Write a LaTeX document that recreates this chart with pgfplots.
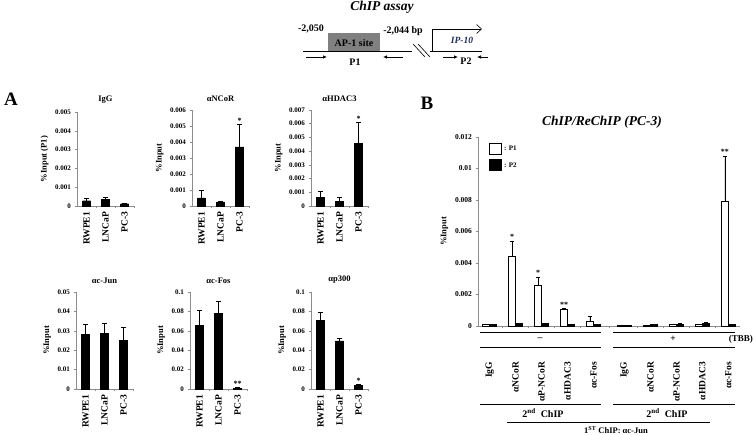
\documentclass[border=0pt]{standalone}
\usepackage{pgfplots}
\pgfplotsset{compat=1.18}
\usepackage{fontspec}
\setmainfont{Liberation Serif}
\usetikzlibrary{arrows.meta}
\newcommand{\fs}[1]{\fontsize{#1}{#1}\selectfont}
\definecolor{axgray}{RGB}{140,140,140}
\definecolor{ipblue}{RGB}{31,45,90}
\definecolor{boxgray}{RGB}{128,128,128}
\pgfplotsset{
 common/.style={
  scale only axis, ymin=0,
  axis x line*=bottom, axis y line*=left,
  axis line style={-, draw=axgray, line width=0.6pt},
  major x tick style={draw=none},
  minor x tick style={draw=axgray, line width=0.5pt},
  y tick style={draw=axgray, line width=0.5pt},
  tick align=outside, major tick length=2.5pt, minor tick length=2.5pt,
  y tick label style={font=\bfseries\fs{7}},
  ylabel={\%Input}, ylabel style={font=\bfseries\fs{8.5}},
  scaled y ticks=false, clip=false,
  error bars/y dir=plus, error bars/y explicit,
  error bars/error bar style={black, line width=0.6pt},
  error bars/error mark options={rotate=90, black, mark size=2.3pt, line width=0.6pt},
 },
 panelA/.style={
  common, width=57pt,
  ybar, bar width=8pt,
  xmin=-0.5, xmax=2.5,
  xtick={0,1,2}, xticklabels={RWPE1,LNCaP,PC-3},
  minor xtick={0.5,1.5,2.5},
  x tick label style={rotate=90, anchor=east, font=\bfseries\fs{9.5}},
  title style={font=\bfseries\fs{8.5}, yshift=-1pt},
 },
}
\begin{document}
\begin{tikzpicture}
\useasboundingbox (0,0) rectangle (754pt,435pt);

% ---------------- Panel A, row 1 ----------------
\begin{axis}[panelA, at={(77pt,229pt)}, anchor=south west, height=94pt,
  ymax=0.005, ytick={0,0.001,0.002,0.003,0.004,0.005},
  yticklabels={0,0.001,0.002,0.003,0.004,0.005},
  ylabel={\%Input (P1)}, title={IgG}]
\addplot[fill=black, draw=black] coordinates {
 (0,0.00028) +- (0,0.00012)
 (1,0.00037) +- (0,0.0001)
 (2,0.00012) +- (0,0.00002)};
\end{axis}

\begin{axis}[panelA, at={(192pt,229pt)}, anchor=south west, height=96pt,
  ymax=0.006, ytick={0,0.001,0.002,0.003,0.004,0.005,0.006},
  yticklabels={0,0.001,0.002,0.003,0.004,0.005,0.006},
  title={αNCoR}]
\addplot[fill=black, draw=black] coordinates {
 (0,0.0005) +- (0,0.0005)
 (1,0.00025) +- (0,0.00005)
 (2,0.0037) +- (0,0.0014)};
\node[font=\bfseries\fs{8}, anchor=south, inner sep=1pt] at (axis cs:2,0.0051) {*};
\end{axis}

\begin{axis}[panelA, at={(311pt,229pt)}, anchor=south west, height=96pt,
  ymax=0.007, ytick={0,0.001,0.002,0.003,0.004,0.005,0.006,0.007},
  yticklabels={0,0.001,0.002,0.003,0.004,0.005,0.006,0.007},
  title={αHDAC3}]
\addplot[fill=black, draw=black] coordinates {
 (0,0.00065) +- (0,0.0004)
 (1,0.00035) +- (0,0.00025)
 (2,0.00455) +- (0,0.00155)};
\node[font=\bfseries\fs{8}, anchor=south, inner sep=1pt] at (axis cs:2,0.0061) {*};
\end{axis}

% ---------------- Panel A, row 2 ----------------
\begin{axis}[panelA, at={(76pt,46pt)}, anchor=south west, height=97pt,
  ymax=0.05, ytick={0,0.01,0.02,0.03,0.04,0.05},
  yticklabels={0,0.01,0.02,0.03,0.04,0.05},
  title={αc-Jun}]
\addplot[fill=black, draw=black] coordinates {
 (0,0.0283) +- (0,0.0052)
 (1,0.0288) +- (0,0.0052)
 (2,0.0252) +- (0,0.0068)};
\end{axis}

\begin{axis}[panelA, at={(190pt,46pt)}, anchor=south west, height=97pt,
  ymax=0.1, ytick={0,0.02,0.04,0.06,0.08,0.1},
  yticklabels={0,0.02,0.04,0.06,0.08,0.1},
  title={αc-Fos}]
\addplot[fill=black, draw=black] coordinates {
 (0,0.0655) +- (0,0.0155)
 (1,0.078) +- (0,0.012)
 (2,0.001) +- (0,0.0005)};
\node[font=\bfseries\fs{8}, anchor=south, inner sep=1pt] at (axis cs:2,0.0015) {**};
\end{axis}

\begin{axis}[panelA, at={(311pt,46pt)}, anchor=south west, height=97pt,
  ymax=0.1, ytick={0,0.02,0.04,0.06,0.08,0.1},
  yticklabels={0,0.02,0.04,0.06,0.08,0.1},
  title={αp300}]
\addplot[fill=black, draw=black] coordinates {
 (0,0.071) +- (0,0.008)
 (1,0.0495) +- (0,0.0025)
 (2,0.0035) +- (0,0.0012)};
\node[font=\bfseries\fs{8}, anchor=south, inner sep=1pt] at (axis cs:2,0.0047) {*};
\end{axis}

% ---------------- Panel B ----------------
\begin{axis}[common, at={(478pt,109pt)}, anchor=south west, width=262pt, height=189pt,
  ybar=0pt, bar width=7pt, xmin=-0.45, xmax=9.65, ymax=0.012,
  xtick={0,1,2,3,4,5.2,6.2,7.2,8.2,9.2},
  xticklabels={IgG,αNCoR,αP-NCoR,αHDAC3,αc-Fos,IgG,αNCoR,αP-NCoR,αHDAC3,αc-Fos},
  x tick label style={rotate=90, anchor=east, font=\bfseries\fs{9.5}},
  xticklabel shift=30pt,
  minor xtick={0.5,1.5,2.5,3.5,4.6,5.7,6.7,7.7,8.7},
  ytick={0,0.002,0.004,0.006,0.008,0.01,0.012},
  yticklabels={0,0.002,0.004,0.006,0.008,0.01,0.012},
  y tick label style={font=\bfseries\fs{7.5}},
  ylabel style={font=\bfseries\fs{8.5}}]
\addplot[fill=white, draw=black, line width=0.6pt] coordinates {
 (0,0.0001) +- (0,0.00003)
 (1,0.0044) +- (0,0.001)
 (2,0.0026) +- (0,0.0005)
 (3,0.00105) +- (0,0.00005)
 (4,0.0003) +- (0,0.0003)
 (5.2,0.00005) +- (0,0)
 (6.2,0.00005) +- (0,0)
 (7.2,0.00008) +- (0,0)
 (8.2,0.0001) +- (0,0)
 (9.2,0.0079) +- (0,0.0029)};
\addplot[fill=black, draw=black, line width=0.6pt] coordinates {
 (0,0.0001) +- (0,0)
 (1,0.00015) +- (0,0.00003)
 (2,0.00015) +- (0,0.00005)
 (3,0.0001) +- (0,0)
 (4,0.0001) +- (0,0)
 (5.2,0.00005) +- (0,0)
 (6.2,0.00008) +- (0,0)
 (7.2,0.0001) +- (0,0.00005)
 (8.2,0.00015) +- (0,0.0001)
 (9.2,0.0001) +- (0,0)};
\node[font=\bfseries\fs{8}, anchor=south, inner sep=1pt, xshift=-3.5pt] at (axis cs:1,0.0054) {*};
\node[font=\bfseries\fs{8}, anchor=south, inner sep=1pt, xshift=-3.5pt] at (axis cs:2,0.0031) {*};
\node[font=\bfseries\fs{8}, anchor=south, inner sep=1pt, xshift=-3.5pt] at (axis cs:3,0.0011) {**};
\node[font=\bfseries\fs{8}, anchor=south, inner sep=1pt, xshift=-3.5pt] at (axis cs:9.2,0.0108) {**};
\end{axis}

\begin{scope}[x=1pt, y=1pt]
% panel letters and titles
\node[font=\bfseries\fs{19}] at (11,336) {A};
\node[font=\bfseries\fs{19}] at (427,332) {B};
\node[font=\bfseries\itshape\fs{13.5}] at (602,313) {ChIP/ReChIP (PC-3)};
% legend B
\draw[black, line width=0.5pt, fill=white] (489,281) rectangle (501,292);
\fill[black] (489,264) rectangle (502,276);
\node[font=\bfseries\fs{7}, anchor=west, inner sep=1pt] at (503,287) {: P1};
\node[font=\bfseries\fs{7}, anchor=west, inner sep=1pt] at (503,270) {: P2};
% B annotations under axis
\draw[line width=0.6pt] (480,103) -- (601,103) (613,103) -- (735,103);
\draw[line width=0.6pt] (480,88) -- (601,88) (613,88) -- (735,88);
\node[font=\bfseries\fs{9.5}] at (540,96) {–};
\node[font=\bfseries\fs{9.5}] at (673,96) {+};
\node[font=\bfseries\fs{9}, anchor=east, inner sep=0.5pt] at (753.5,96) {(TBB)};
\draw[line width=0.6pt] (480,31) -- (601,31) (613,31) -- (735,31);
\node[font=\bfseries\fs{10}] at (543,22) {2\textsuperscript{nd}\ \ ChIP};
\node[font=\bfseries\fs{10}] at (667,22) {2\textsuperscript{nd}\ \ ChIP};
\draw[line width=0.6pt] (507,13) -- (710,13);
\node[font=\bfseries\fs{8.5}] at (616,4.5) {1\textsuperscript{ST} ChIP: αc-Jun};
% top diagram
\node[font=\bfseries\itshape\fs{13.5}] at (382,428) {ChIP assay};
\node[font=\bfseries\fs{10}] at (311,406) {-2,050};
\node[font=\bfseries\fs{10}] at (403,404) {-2,044 bp};
\fill[boxgray] (328,384) rectangle (380,402);
\node[font=\bfseries\fs{10}] at (354,392) {AP-1 site};
\draw[line width=0.8pt] (303,384) -- (412,384);
\draw[line width=0.8pt] (430,384) -- (482,384);
\draw[line width=0.6pt] (413,391) -- (425,378) (418,391) -- (430,378);
\draw[line width=0.6pt, -{Straight Barb[length=5pt, width=9pt]}] (432,384) -- (432,406) -- (482,406);
\node[font=\bfseries\itshape\fs{9.5}, text=ipblue] at (462,395) {IP-10};
\draw[line width=0.7pt, -{Latex[length=4pt, width=3.5pt]}] (306,378) -- (327,378);
\draw[line width=0.7pt, -{Latex[length=4pt, width=3.5pt]}] (403,378) -- (383,378);
\node[font=\bfseries\fs{10}] at (355,373) {P1};
\draw[line width=0.7pt, -{Latex[length=4pt, width=3.5pt]}] (443,378) -- (458,378);
\draw[line width=0.7pt, -{Latex[length=4pt, width=3.5pt]}] (488,378) -- (477,378);
\node[font=\bfseries\fs{10}] at (466,374) {P2};
\end{scope}
\end{tikzpicture}
\end{document}
